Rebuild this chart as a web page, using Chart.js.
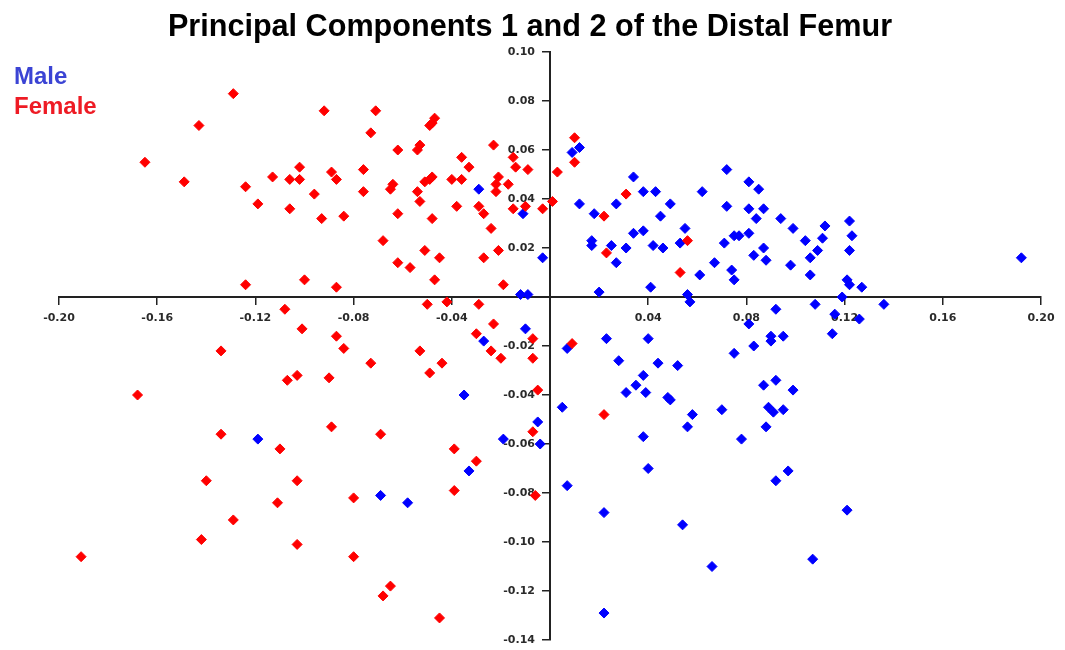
<!DOCTYPE html>
<html>
<head>
<meta charset="utf-8">
<script src="https://cdn.jsdelivr.net/npm/chart.js@4.4.1/dist/chart.umd.min.js"></script>
<style>
  body { margin: 0; background: #fff; }
  #wrap { position: relative; width: 1065px; height: 650px; }
  #title {
    position: absolute; left: 0; top: 10px; width: 1060px; text-align: center;
    font: bold 30.6px "Liberation Sans", Arial, sans-serif; line-height: 30px; color: #000;
  }
  .leg { position: absolute; left: 14px; font: bold 24px "Liberation Sans", Arial, sans-serif; line-height: 24px; }
</style>
</head>
<body>
<div id="wrap">
  <canvas id="c" width="1065" height="650"></canvas>
  <div id="title">Principal Components 1 and 2 of the Distal Femur</div>
  <div class="leg" style="top:64px;color:#3b44d4">Male</div>
  <div class="leg" style="top:94px;color:#ee1b24">Female</div>
</div>
<script>
// PC1 (x) / PC2 (y) scores
const maleX = [
  -0.029, -0.011, -0.003, 0.009, 0.012, 0.012, 0.018, 0.017, 0.017, 0.025,
  0.027, 0.027, 0.031, 0.034, 0.034, 0.038, 0.038, 0.043, 0.042, 0.046,
  0.045, 0.049, 0.053, 0.055, 0.061, 0.072, 0.062, 0.081, 0.085, 0.072,
  0.081, 0.087, 0.084, 0.094, 0.099, 0.075, 0.077, 0.081, 0.071, 0.087,
  0.088, 0.083, 0.104, 0.111, 0.112, 0.109, 0.106, 0.122, 0.123, 0.122,
  0.067, 0.098, 0.074, 0.075, 0.106, 0.121, 0.192, -0.012, -0.009, -0.010,
  -0.027, -0.035, -0.005, -0.019, -0.004, -0.033, 0.020, 0.041, 0.056, 0.057,
  0.007, 0.005, 0.023, 0.040, 0.028, 0.044, 0.052, 0.038, 0.035, 0.031,
  0.039, 0.048, 0.049, 0.058, 0.056, 0.038, 0.040, -0.069, -0.058, 0.007,
  0.022, 0.054, 0.022, -0.119, 0.122, 0.127, 0.119, 0.108, 0.136, 0.092,
  0.116, 0.126, 0.081, 0.115, 0.090, 0.095, 0.090, 0.083, 0.075, 0.092,
  0.087, 0.099, 0.070, 0.089, 0.091, 0.095, 0.088, 0.078, 0.097, 0.092,
  0.121, 0.066, 0.107
];
const maleY = [
  0.044, 0.034, 0.016, 0.059, 0.061, 0.038, 0.034, 0.023, 0.021, 0.021,
  0.014, 0.038, 0.020, 0.026, 0.049, 0.027, 0.043, 0.043, 0.021, 0.020,
  0.033, 0.038, 0.022, 0.028, 0.009, 0.052, 0.043, 0.047, 0.044, 0.037,
  0.036, 0.036, 0.032, 0.032, 0.028, 0.025, 0.025, 0.026, 0.022, 0.020,
  0.015, 0.017, 0.023, 0.024, 0.029, 0.019, 0.016, 0.031, 0.025, 0.019,
  0.014, 0.013, 0.011, 0.007, 0.009, 0.007, 0.016, 0.001, 0.001, -0.013,
  -0.018, -0.040, -0.051, -0.058, -0.060, -0.071, 0.002, 0.004, 0.001, -0.002,
  -0.021, -0.045, -0.017, -0.017, -0.026, -0.027, -0.028, -0.032, -0.036, -0.039,
  -0.039, -0.041, -0.042, -0.048, -0.053, -0.057, -0.070, -0.081, -0.084, -0.077,
  -0.088, -0.093, -0.129, -0.058, 0.005, 0.004, 0.000, -0.003, -0.003, -0.005,
  -0.007, -0.009, -0.011, -0.015, -0.016, -0.016, -0.018, -0.020, -0.023, -0.034,
  -0.036, -0.038, -0.046, -0.045, -0.047, -0.046, -0.053, -0.058, -0.071, -0.075,
  -0.087, -0.110, -0.107
];
const femaleX = [
  -0.129, -0.092, -0.143, -0.165, -0.149, -0.124, -0.119, -0.113, -0.106, -0.102,
  -0.102, -0.106, -0.096, -0.093, -0.089, -0.087, -0.084, -0.071, -0.073, -0.076,
  -0.076, -0.068, -0.062, -0.065, -0.064, -0.062, -0.062, -0.057, -0.047, -0.054,
  -0.053, -0.049, -0.048, -0.047, -0.054, -0.053, -0.051, -0.049, -0.048, -0.048,
  -0.051, -0.045, -0.040, -0.038, -0.036, -0.036, -0.033, -0.027, -0.029, -0.027,
  -0.024, -0.023, -0.022, -0.022, -0.021, -0.021, -0.017, -0.015, -0.014, -0.015,
  -0.009, -0.010, -0.019, -0.003, 0.001, 0.003, 0.010, 0.010, 0.022, 0.023,
  0.031, 0.056, 0.053, -0.124, -0.100, -0.087, -0.108, -0.101, -0.087, -0.084,
  -0.134, -0.107, -0.103, -0.090, -0.168, -0.089, -0.134, -0.110, -0.140, -0.103,
  -0.111, -0.080, -0.129, -0.142, -0.103, -0.080, -0.191, -0.050, -0.042, -0.029,
  -0.023, -0.030, -0.024, -0.020, -0.053, -0.073, -0.049, -0.044, -0.007, -0.007,
  -0.005, -0.007, -0.069, -0.039, -0.030, 0.009, 0.022, -0.039, -0.006, -0.065,
  -0.068, -0.045
];
const femaleY = [
  0.083, 0.076, 0.070, 0.055, 0.047, 0.045, 0.038, 0.049, 0.048, 0.048,
  0.053, 0.036, 0.042, 0.032, 0.051, 0.048, 0.033, 0.076, 0.067, 0.052,
  0.043, 0.023, 0.034, 0.044, 0.046, 0.060, 0.014, 0.012, 0.007, 0.060,
  0.062, 0.070, 0.071, 0.073, 0.043, 0.039, 0.047, 0.048, 0.049, 0.032,
  0.019, 0.016, 0.048, 0.037, 0.057, 0.048, 0.053, 0.016, 0.037, 0.034,
  0.028, 0.062, 0.043, 0.046, 0.049, 0.019, 0.046, 0.057, 0.053, 0.036,
  0.052, 0.037, 0.005, 0.036, 0.039, 0.051, 0.065, 0.055, 0.033, 0.018,
  0.042, 0.023, 0.010, 0.005, 0.007, 0.004, -0.005, -0.013, -0.016, -0.021,
  -0.022, -0.034, -0.032, -0.033, -0.040, -0.053, -0.056, -0.062, -0.075, -0.075,
  -0.084, -0.082, -0.091, -0.099, -0.101, -0.106, -0.106, -0.003, -0.002, -0.003,
  -0.011, -0.015, -0.022, -0.025, -0.022, -0.027, -0.031, -0.027, -0.017, -0.025,
  -0.038, -0.055, -0.056, -0.062, -0.067, -0.019, -0.048, -0.079, -0.081, -0.118,
  -0.122, -0.131
];

const xTicks = [-0.2, -0.16, -0.12, -0.08, -0.04, 0.04, 0.08, 0.12, 0.16, 0.2];
const xTickLabels = ["-0.20", "-0.16", "-0.12", "-0.08", "-0.04", "0.04", "0.08", "0.12", "0.16", "0.20"];
const yTicks = [-0.14, -0.12, -0.1, -0.08, -0.06, -0.04, -0.02, 0.02, 0.04, 0.06, 0.08, 0.1];
const yTickLabels = ["-0.14", "-0.12", "-0.10", "-0.08", "-0.06", "-0.04", "-0.02", "0.02", "0.04", "0.06", "0.08", "0.10"];

const pts = (xs, ys) => xs.map((x, i) => ({ x, y: ys[i] }));

const tickFont = { family: "DejaVu Sans", size: 11, weight: "bold" };
const axisLine = { display: true, color: "#222", width: 2 };
const tickGrid = { drawOnChartArea: false, drawTicks: true, tickLength: 7, color: "#222", lineWidth: 1.5 };

// y labels on a crossing axis get drawn flush against it; push them left of the tick marks
const yLabelGap = {
  id: "yLabelGap",
  beforeDraw(chart) {
    const items = chart.scales.y.getLabelItems(chart.chartArea);
    items.forEach((it) => { it.options.translation[0] -= 15; });
  },
};

new Chart(document.getElementById("c"), {
  type: "scatter",
  data: {
    datasets: [
      {
        label: "Male",
        data: pts(maleX, maleY),
        pointStyle: "rectRot",
        pointRadius: 5,
        backgroundColor: "#0000ff",
        borderColor: "#0000ff",
        borderWidth: 1,
        order: 1,
      },
      {
        label: "Female",
        data: pts(femaleX, femaleY),
        pointStyle: "rectRot",
        pointRadius: 5,
        backgroundColor: "#ff0000",
        borderColor: "#ff0000",
        borderWidth: 1,
        order: 0,
      },
    ],
  },
  options: {
    responsive: false,
    animation: false,
    layout: { padding: { top: 52, left: 59, right: 24, bottom: 10 } },
    plugins: { legend: { display: false }, title: { display: false }, tooltip: { enabled: false } },
    scales: {
      x: {
        type: "linear",
        min: -0.2,
        max: 0.2,
        position: { y: 0 },
        afterBuildTicks: (s) => { s.ticks = xTicks.map((v) => ({ value: v })); },
        ticks: {
          autoSkip: false,
          maxRotation: 0,
          padding: 8,
          color: "#2a2a2a",
          font: tickFont,
          callback: (v, i) => xTickLabels[i],
        },
        grid: tickGrid,
        border: axisLine,
      },
      y: {
        type: "linear",
        min: -0.14,
        max: 0.1,
        position: { x: 0 },
        afterBuildTicks: (s) => { s.ticks = yTicks.map((v) => ({ value: v })); },
        ticks: {
          autoSkip: false,
          color: "#2a2a2a",
          font: tickFont,
          callback: (v, i) => yTickLabels[i],
        },
        grid: tickGrid,
        border: axisLine,
      },
    },
  },
  plugins: [yLabelGap],
});
</script>
</body>
</html>
